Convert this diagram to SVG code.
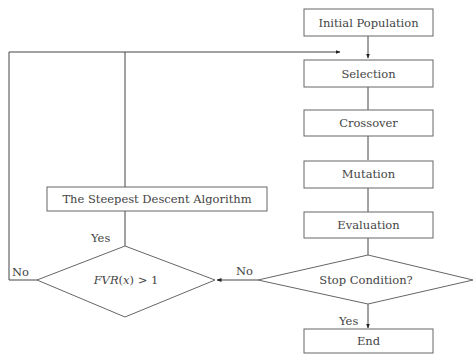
<svg xmlns="http://www.w3.org/2000/svg" width="475" height="359" viewBox="0 0 475 359">
<defs>
<marker id="ah" viewBox="0 0 10 10" refX="9" refY="5" markerWidth="5" markerHeight="5" orient="auto-start-reverse">
<path d="M0,1 L10,5 L0,9 z" fill="#222"/>
</marker>
<style>
.box{fill:#fff;stroke:#666;stroke-width:1}
.t{font-family:"DejaVu Serif","Liberation Serif",serif;font-size:11.5px;fill:#444;text-anchor:middle}
.l{font-family:"DejaVu Serif","Liberation Serif",serif;font-size:11.5px;fill:#444}
.c{fill:none;stroke:#444;stroke-width:1}
</style>
</defs>
<rect width="475" height="359" fill="#fff"/>
<g id="connectors">
<path class="c" d="M368,36 V58" marker-end="url(#ah)"/>
<path class="c" d="M368,87 V110"/>
<path class="c" d="M368,136 V160"/>
<path class="c" d="M368,188 V212"/>
<path class="c" d="M368,238 V255"/>
<path class="c" d="M368,304 V328" marker-end="url(#ah)"/>
<path class="c" d="M258,280 H217" marker-end="url(#ah)"/>
<path class="c" d="M125,246 V211"/>
<path class="c" d="M125,187 V52"/>
<path class="c" d="M37,280 H9 V52 H340" marker-end="url(#ah)"/>
<text class="l" x="236" y="275">No</text>
<text class="l" x="12" y="276">No</text>
<text class="l" x="91" y="242">Yes</text>
<text class="l" x="339" y="325">Yes</text>
</g>
<g id="initial"><rect class="box" x="304" y="9" width="129" height="27"/><text class="t" x="368.5" y="27">Initial Population</text></g>
<g id="selection"><rect class="box" x="304" y="60" width="129" height="27"/><text class="t" x="368.5" y="78">Selection</text></g>
<g id="crossover"><rect class="box" x="304" y="110" width="129" height="26"/><text class="t" x="368.5" y="127">Crossover</text></g>
<g id="mutation"><rect class="box" x="304" y="161" width="129" height="27"/><text class="t" x="368.5" y="178">Mutation</text></g>
<g id="evaluation"><rect class="box" x="304" y="212" width="129" height="26"/><text class="t" x="368.5" y="229">Evaluation</text></g>
<g id="stop"><polygon class="box" points="368,255 473,280 368,304 258,280"/><text class="t" x="366" y="284">Stop Condition?</text></g>
<g id="end"><rect class="box" x="304" y="329" width="129" height="24"/><text class="t" x="368.5" y="345">End</text></g>
<g id="steepest"><rect class="box" x="47" y="187" width="220" height="24"/><text class="t" x="157" y="203">The Steepest Descent Algorithm</text></g>
<g id="fvr"><polygon class="box" points="125,246 215,280 125,317 37,280"/><text class="t" x="126" y="284"><tspan font-style="italic">FVR</tspan>(<tspan font-style="italic">x</tspan>) &gt; 1</text></g>
</svg>
